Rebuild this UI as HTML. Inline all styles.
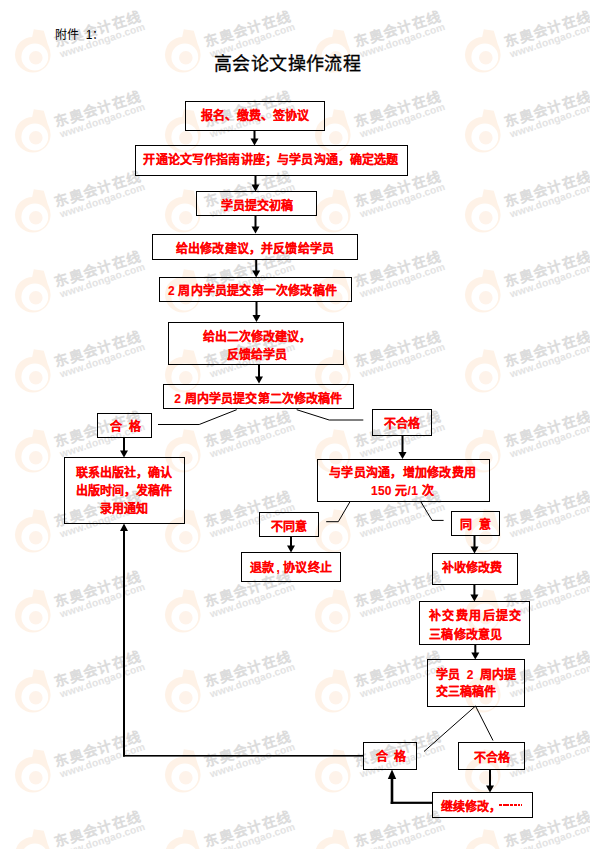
<!DOCTYPE html>
<html lang="zh-CN"><head><meta charset="utf-8">
<style>
html,body{margin:0;padding:0;background:#fff;}
body{width:600px;height:849px;position:relative;overflow:hidden;font-family:"Liberation Sans",sans-serif;}
.wm,.lines{position:absolute;left:0;top:0;}
.b{position:absolute;box-sizing:border-box;border:1px solid #000;color:#f00;font-weight:900;-webkit-text-stroke:0.1px #f00;font-size:12px;line-height:18px;display:flex;align-items:center;justify-content:center;text-align:center;white-space:nowrap;}
.t{position:absolute;white-space:nowrap;}
.dash{display:inline-block;width:23px;height:2px;vertical-align:middle;background:repeating-linear-gradient(90deg,#f00 0 2.9px,transparent 2.9px 3.7px);margin-left:-1.5px;position:relative;top:-2px;}
</style></head><body>
<svg class="wm" width="589.5" height="849">
<defs>
<g id="w">
  <circle cx="-3" cy="-3" r="17.8" fill="#fef2e7"/>
  <path d="M-4,-19 L-2,-28.5 L8,-27 L13,-10 Z" fill="#fef2e7"/>
  <circle cx="-1" cy="-0.7" r="13.4" fill="#fff"/>
  <circle cx="0" cy="0" r="6.8" fill="#fef3ea"/>
  <g transform="rotate(-17)">
    <text x="22.5" y="-4.3" font-size="14" font-weight="normal" fill="#d9d9d9" stroke="#dcdcdc" stroke-width="0.7" font-family="Liberation Sans, sans-serif" letter-spacing="1.1">东奥会计在线</text>
  </g>
  <g transform="rotate(-18.5)">
    <text x="24.2" y="8.2" font-size="10.3" font-weight="bold" fill="#e3e3e3" font-family="Liberation Sans, sans-serif" letter-spacing="0.1">www.dongao.com</text>
  </g>
</g>
</defs>
<use href="#w" x="35.8" y="-22.299999999999997"/>
<use href="#w" x="185.8" y="-22.299999999999997"/>
<use href="#w" x="335.8" y="-22.299999999999997"/>
<use href="#w" x="485.8" y="-22.299999999999997"/>
<use href="#w" x="35.8" y="57.7"/>
<use href="#w" x="185.8" y="57.7"/>
<use href="#w" x="335.8" y="57.7"/>
<use href="#w" x="485.8" y="57.7"/>
<use href="#w" x="35.8" y="137.7"/>
<use href="#w" x="185.8" y="137.7"/>
<use href="#w" x="335.8" y="137.7"/>
<use href="#w" x="485.8" y="137.7"/>
<use href="#w" x="35.8" y="217.7"/>
<use href="#w" x="185.8" y="217.7"/>
<use href="#w" x="335.8" y="217.7"/>
<use href="#w" x="485.8" y="217.7"/>
<use href="#w" x="35.8" y="297.7"/>
<use href="#w" x="185.8" y="297.7"/>
<use href="#w" x="335.8" y="297.7"/>
<use href="#w" x="485.8" y="297.7"/>
<use href="#w" x="35.8" y="377.7"/>
<use href="#w" x="185.8" y="377.7"/>
<use href="#w" x="335.8" y="377.7"/>
<use href="#w" x="485.8" y="377.7"/>
<use href="#w" x="35.8" y="457.7"/>
<use href="#w" x="185.8" y="457.7"/>
<use href="#w" x="335.8" y="457.7"/>
<use href="#w" x="485.8" y="457.7"/>
<use href="#w" x="35.8" y="537.7"/>
<use href="#w" x="185.8" y="537.7"/>
<use href="#w" x="335.8" y="537.7"/>
<use href="#w" x="485.8" y="537.7"/>
<use href="#w" x="35.8" y="617.7"/>
<use href="#w" x="185.8" y="617.7"/>
<use href="#w" x="335.8" y="617.7"/>
<use href="#w" x="485.8" y="617.7"/>
<use href="#w" x="35.8" y="697.7"/>
<use href="#w" x="185.8" y="697.7"/>
<use href="#w" x="335.8" y="697.7"/>
<use href="#w" x="485.8" y="697.7"/>
<use href="#w" x="35.8" y="777.7"/>
<use href="#w" x="185.8" y="777.7"/>
<use href="#w" x="335.8" y="777.7"/>
<use href="#w" x="485.8" y="777.7"/>
<use href="#w" x="35.8" y="857.7"/>
<use href="#w" x="185.8" y="857.7"/>
<use href="#w" x="335.8" y="857.7"/>
<use href="#w" x="485.8" y="857.7"/>
<use href="#w" x="35.8" y="937.7"/>
<use href="#w" x="185.8" y="937.7"/>
<use href="#w" x="335.8" y="937.7"/>
<use href="#w" x="485.8" y="937.7"/>
</svg>

<div class="t" style="left:55px;top:25px;font-size:12px;color:#000;">附件&nbsp;&nbsp;1：</div>
<div class="t" style="left:214px;top:49.3px;font-size:18px;color:#000;letter-spacing:0.4px;-webkit-text-stroke:0.3px #000;">高会论文操作流程</div>

<svg class="lines" width="600" height="849">
<g fill="#000" stroke="none">
  <rect x="253.50" y="130" width="2" height="9.50"/><path d="M250.50,138.50 L258.50,138.50 L254.50,145.50 Z"/>
  <rect x="254.50" y="176" width="2" height="9.50"/><path d="M251.50,184.50 L259.50,184.50 L255.50,191.50 Z"/>
  <rect x="254.50" y="216" width="2" height="11.50"/><path d="M251.50,226.50 L259.50,226.50 L255.50,233.50 Z"/>
  <rect x="255.20" y="260" width="2" height="11.50"/><path d="M252.20,270.50 L260.20,270.50 L256.20,277.50 Z"/>
  <rect x="255.50" y="302" width="2" height="14.00"/><path d="M252.50,315.00 L260.50,315.00 L256.50,322.00 Z"/>
  <rect x="258.00" y="365" width="2" height="12.50"/><path d="M255.00,376.50 L263.00,376.50 L259.00,383.50 Z"/>
  <rect x="123.00" y="438" width="2" height="13.50"/><path d="M120.00,450.50 L128.00,450.50 L124.00,457.50 Z"/>
  <rect x="401.50" y="436" width="2" height="17.00"/><path d="M398.50,452.00 L406.50,452.00 L402.50,459.00 Z"/>
  <rect x="290.00" y="537" width="2" height="9.50"/><path d="M287.00,545.50 L295.00,545.50 L291.00,552.50 Z"/>
  <rect x="473.50" y="536" width="2" height="11.50"/><path d="M470.50,546.50 L478.50,546.50 L474.50,553.50 Z"/>
  <rect x="473.40" y="585" width="2" height="10.50"/><path d="M470.40,594.50 L478.40,594.50 L474.40,601.50 Z"/>
  <rect x="474.30" y="645" width="2" height="8.50"/><path d="M471.30,652.50 L479.30,652.50 L475.30,659.50 Z"/>
  <rect x="489.00" y="770" width="2" height="16.50"/><path d="M486.00,785.50 L494.00,785.50 L490.00,792.50 Z"/>
  <rect x="123" y="531" width="2" height="225.5"/><path d="M120,531 L128,531 L124,523.5 Z"/>
  <rect x="123" y="755" width="240" height="1.6"/>
  <rect x="390.7" y="801.7" width="42" height="2.2"/><rect x="390.7" y="778" width="2.6" height="25.9"/><path d="M387.8,779 L396.2,779 L392,769.5 Z"/>
</g>
<g stroke="#000" stroke-width="1" fill="none">
  <polyline points="158,424.5 199.2,424.5 236.7,409.7"/>
  <polyline points="296.7,409.7 329.2,420 363.3,420"/>
  <polyline points="350,501.7 338.3,521.7 326.2,521.7"/>
  <polyline points="421,502 432,520.4 443.6,520.4"/>
  <polyline points="424,751.5 475.5,706 493,740.5"/>
</g>
</svg>

<div class="b" style="left:185px;top:101px;width:140px;height:30px;"><div style="position:relative;left:0px;top:0px">报名、缴费、签协议</div></div>
<div class="b" style="left:135px;top:145px;width:273px;height:31px;letter-spacing:0.15px;"><div style="position:relative;left:-0.5px;top:-1px">开通论文写作指南讲座；与学员沟通，确定选题</div></div>
<div class="b" style="left:196px;top:191px;width:121px;height:25px;"><div style="position:relative;left:0px;top:2px">学员提交初稿</div></div>
<div class="b" style="left:152px;top:234px;width:206px;height:26px;letter-spacing:0.15px;"><div style="position:relative;left:0px;top:1.5px">给出修改建议，并反馈给学员</div></div>
<div class="b" style="left:159px;top:277px;width:193px;height:25px;letter-spacing:0.2px;"><div style="position:relative;left:-3px;top:1.5px">2 周内学员提交第一次修改稿件</div></div>
<div class="b" style="left:168px;top:322px;width:176px;height:43px;"><div style="position:relative;left:1px;top:2px">给出二次修改建议，<br>反馈给学员</div></div>
<div class="b" style="left:163px;top:384px;width:191px;height:25px;letter-spacing:0.15px;"><div style="position:relative;left:0px;top:2.5px">2 周内学员提交第二次修改稿件</div></div>
<div class="b" style="left:97px;top:413px;width:55px;height:25px;"><div style="position:relative;left:1px;top:1.5px">合&nbsp;&nbsp;格</div></div>
<div class="b" style="left:372px;top:409px;width:60px;height:27px;"><div style="position:relative;left:0px;top:1.8px">不合格</div></div>
<div class="b" style="left:64px;top:457px;width:121px;height:67px;"><div style="position:relative;left:-1px;top:0.5px">联系出版社，确认<br>出版时间，发稿件<br>录用通知</div></div>
<div class="b" style="left:317px;top:459px;width:173px;height:43px;letter-spacing:0.25px;"><div style="position:relative;left:-1px;top:1.7px">与学员沟通，增加修改费用<br>150 元/1 次</div></div>
<div class="b" style="left:259px;top:512px;width:60px;height:25px;"><div style="position:relative;left:0px;top:2.2px">不同意</div></div>
<div class="b" style="left:451px;top:511px;width:49px;height:25px;"><div style="position:relative;left:0px;top:1px">同&nbsp;&nbsp;意</div></div>
<div class="b" style="left:241px;top:552px;width:100px;height:30px;letter-spacing:0.5px;"><div style="position:relative;left:0px;top:0.5px">退款<span style="display:inline-block;width:8px;text-align:center;">,</span>协议终止</div></div>
<div class="b" style="left:432px;top:553px;width:86px;height:32px;"><div style="position:relative;left:-3.5px;top:-1px">补收修改费</div></div>
<div class="b" style="left:419px;top:601px;width:111px;height:44px;justify-content:flex-start;text-align:left;padding-left:9px;line-height:18.5px;"><div style="position:relative;left:0px;top:2.8px"><span style="letter-spacing:1.4px">补交费用后提交</span><br><span style="letter-spacing:0.3px">三稿修改意见</span></div></div>
<div class="b" style="left:427px;top:659px;width:98px;height:48px;justify-content:flex-start;text-align:left;padding-left:8px;line-height:17px;"><div style="position:relative;left:0px;top:0.5px"><span style="word-spacing:3.5px">学员 2 周内提</span><br>交三稿稿件</div></div>
<div class="b" style="left:363px;top:742px;width:54px;height:28px;"><div style="position:relative;left:1px;top:1px">合&nbsp;&nbsp;格</div></div>
<div class="b" style="left:458px;top:742px;width:67px;height:28px;"><div style="position:relative;left:0px;top:1.5px">不合格</div></div>
<div class="b" style="left:432px;top:792px;width:101px;height:26px;"><div style="position:relative;left:-1px;top:1.5px">继续修改，<span class="dash"></span></div></div>
</body></html>
